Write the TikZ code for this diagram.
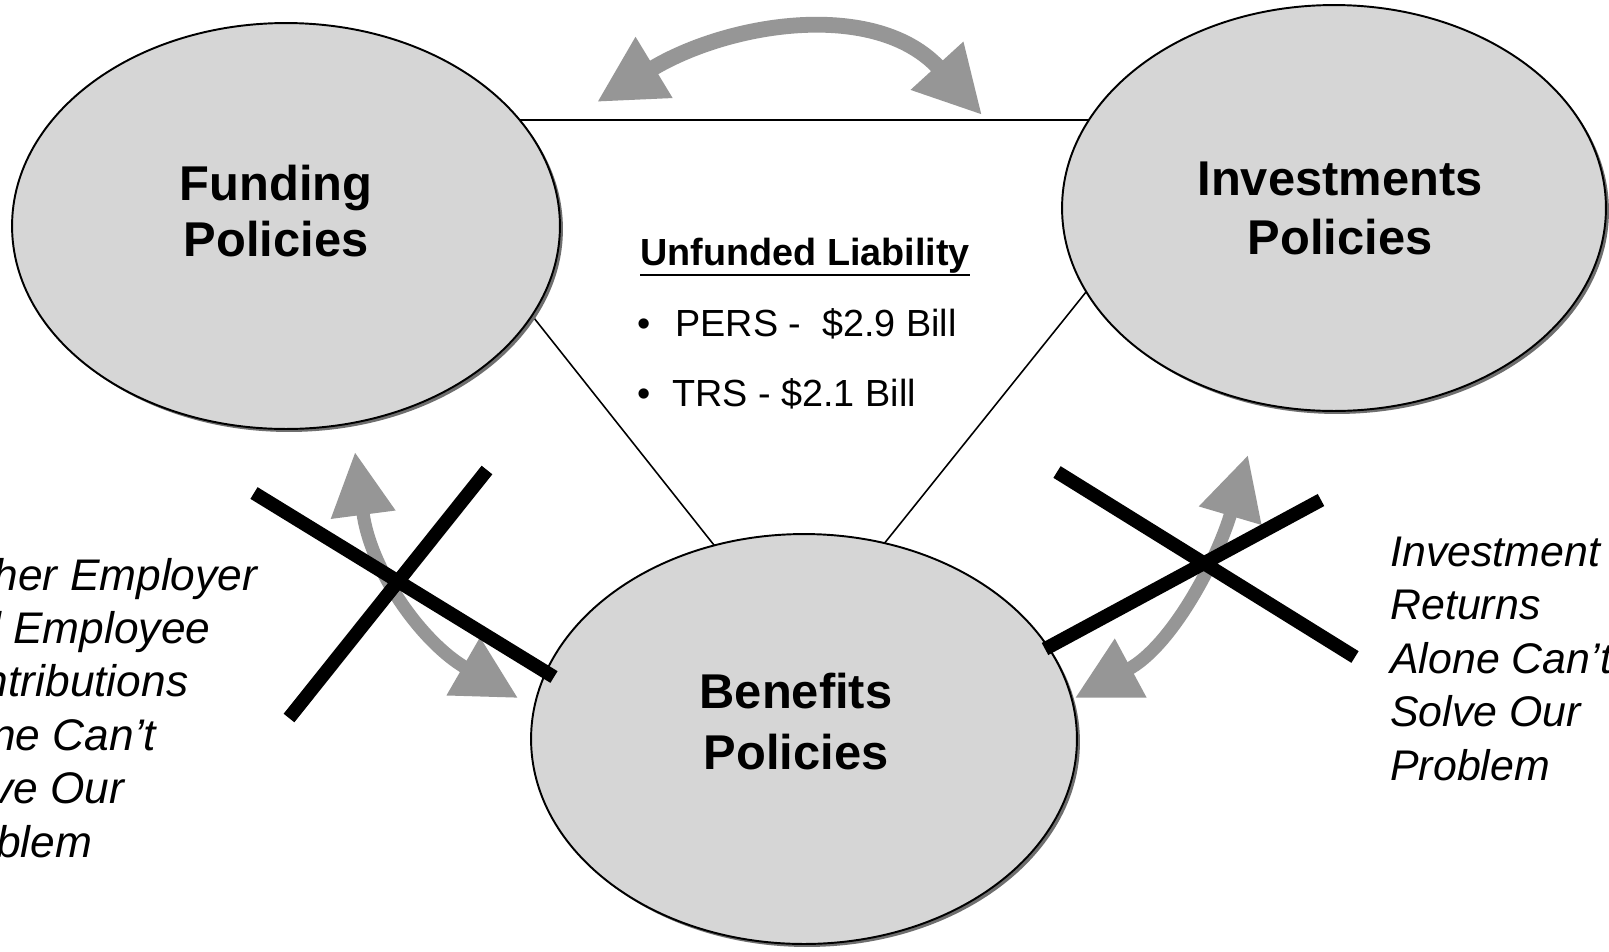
\documentclass[tikz,border=0pt]{standalone}
\usepackage{fontspec}
\setmainfont{Liberation Sans}
\usetikzlibrary{arrows.meta,shapes.geometric}

\definecolor{ovalfill}{RGB}{214,214,214}
\definecolor{ovalshade}{RGB}{110,110,110}
\definecolor{arrowgray}{RGB}{150,150,150}

\begin{document}
\begin{tikzpicture}[x=0.02cm, y=-0.02cm,
  policy/.style={ellipse, draw=black, line width=1.1pt, fill=ovalfill, inner sep=0pt},
  policyshade/.style={ellipse, fill=ovalshade, inner sep=0pt},
  ovallabel/.style={font=\fontsize{27.8pt}{32pt}\selectfont\bfseries, anchor=base, inner sep=0pt},
  tieline/.style={draw=black, line width=0.9pt},
  swaparrow/.style={draw=arrowgray, line width=9pt,
    {Triangle[length=38pt,width=38pt]}-{Triangle[length=38pt,width=38pt]}},
  sidearrow/.style={draw=arrowgray, line width=7.5pt,
    {Triangle[length=36pt,width=35pt]}-{Triangle[length=36pt,width=36pt]}},
  crossbar/.style={draw=black, line width=7.8pt, line cap=butt},
  listtext/.style={font=\fontsize{21.5pt}{26pt}\selectfont, anchor=base west, inner sep=0pt},
  sidetext/.style={font=\fontsize{24.4pt}{30pt}\selectfont\itshape, anchor=base west, inner sep=0pt},
  leftnote/.style={sidetext, font=\fontsize{25.2pt}{30pt}\selectfont\itshape}
]
\useasboundingbox[fill=white] (0,0) rectangle (1609,951);

% corners of the triangle that ties the three policy areas together
\coordinate (tF) at (377,120);
\coordinate (tI) at (1224,120);
\coordinate (tB) at (798,651);
\draw[tieline] (tF) -- (tI) -- (tB) -- cycle;

% policy ovals, each with a soft shadow on its lower right rim
\node[policyshade, minimum width=10.96cm, minimum height=8.12cm] (fundS) at (289,229) {};
\node[policy, minimum width=10.96cm, minimum height=8.12cm] (fund) at (286,226) {};
\node[policyshade, minimum width=10.88cm, minimum height=8.12cm] (invS) at (1337,211) {};
\node[policy, minimum width=10.88cm, minimum height=8.12cm] (inv) at (1334,208) {};
\node[policyshade, minimum width=10.92cm, minimum height=8.2cm] (benS) at (807,742) {};
\node[policy, minimum width=10.92cm, minimum height=8.2cm] (ben) at (804,739) {};

\node[ovallabel] (fundA) at (276,200) {Funding};
\node[ovallabel] (fundB) at (276,256.5) {Policies};
\node[ovallabel] (invA) at (1340,195) {Investments};
\node[ovallabel] (invB) at (1340,254.5) {Policies};
\node[ovallabel] (benA) at (796,708) {Benefits};
\node[ovallabel] (benB) at (796,769.5) {Policies};

% two-way exchange between funding and investments
\coordinate (swL) at (597,102);
\coordinate (swR) at (982,115);
\draw[swaparrow] (swL) .. controls (729,22) and (876,-1) .. (swR);

% exchanges with benefits, both struck out
\coordinate (fbU) at (355,452);
\coordinate (fbD) at (518,698);
\draw[sidearrow] (fbU) .. controls (370.5,571) and (422.7,643) .. (fbD);
\coordinate (ibU) at (1248,455);
\coordinate (ibD) at (1075,698);
\draw[sidearrow] (ibU) .. controls (1216.9,560.5) and (1171.8,645.9) .. (ibD);

\coordinate (xa1) at (254,493);
\coordinate (xa2) at (554,677);
\coordinate (xb1) at (487,470);
\coordinate (xb2) at (289,718);
\draw[crossbar] (xa1) -- (xa2);
\draw[crossbar] (xb1) -- (xb2);
\coordinate (xc1) at (1057,472);
\coordinate (xc2) at (1355,657);
\coordinate (xd1) at (1045,649);
\coordinate (xd2) at (1321,500);
\draw[crossbar] (xc1) -- (xc2);
\draw[crossbar] (xd1) -- (xd2);

% unfunded liability summary
\node[font=\fontsize{21.5pt}{26pt}\selectfont\bfseries, anchor=base west, inner sep=0pt] (ul) at (640,265) {Unfunded Liability};
\draw[line width=1.6pt] ([yshift=-5.7pt]ul.base west) -- ([yshift=-5.7pt]ul.base east);
\node[font=\fontsize{21.5pt}{26pt}\selectfont, anchor=base, inner sep=0pt] (bu1) at (644,336.5) {•};
\node[listtext] (pers) at (675,336.5) {PERS -\ \ \$2.9 Bill};
\node[font=\fontsize{21.5pt}{26pt}\selectfont, anchor=base, inner sep=0pt] (bu2) at (644,406) {•};
\node[listtext] (trs) at (672,406) {TRS - \$2.1 Bill};

% side remarks
\node[leftnote] (lt0) at (-73,590) {Higher Employer};
\node[leftnote] (lt1) at (-73,643.4) {and Employee};
\node[leftnote] (lt2) at (-73,696.8) {Contributions};
\node[leftnote] (lt3) at (-73,750.2) {Alone Can’t};
\node[leftnote] (lt4) at (-73,803.6) {Solve Our};
\node[leftnote] (lt5) at (-73,857) {Problem};

\node[sidetext] (rt0) at (1390,566) {Investment};
\node[sidetext] (rt1) at (1390,619.5) {Returns};
\node[sidetext] (rt2) at (1390,673) {Alone Can’t};
\node[sidetext] (rt3) at (1390,726.5) {Solve Our};
\node[sidetext] (rt4) at (1390,780) {Problem};
\end{tikzpicture}
\end{document}
